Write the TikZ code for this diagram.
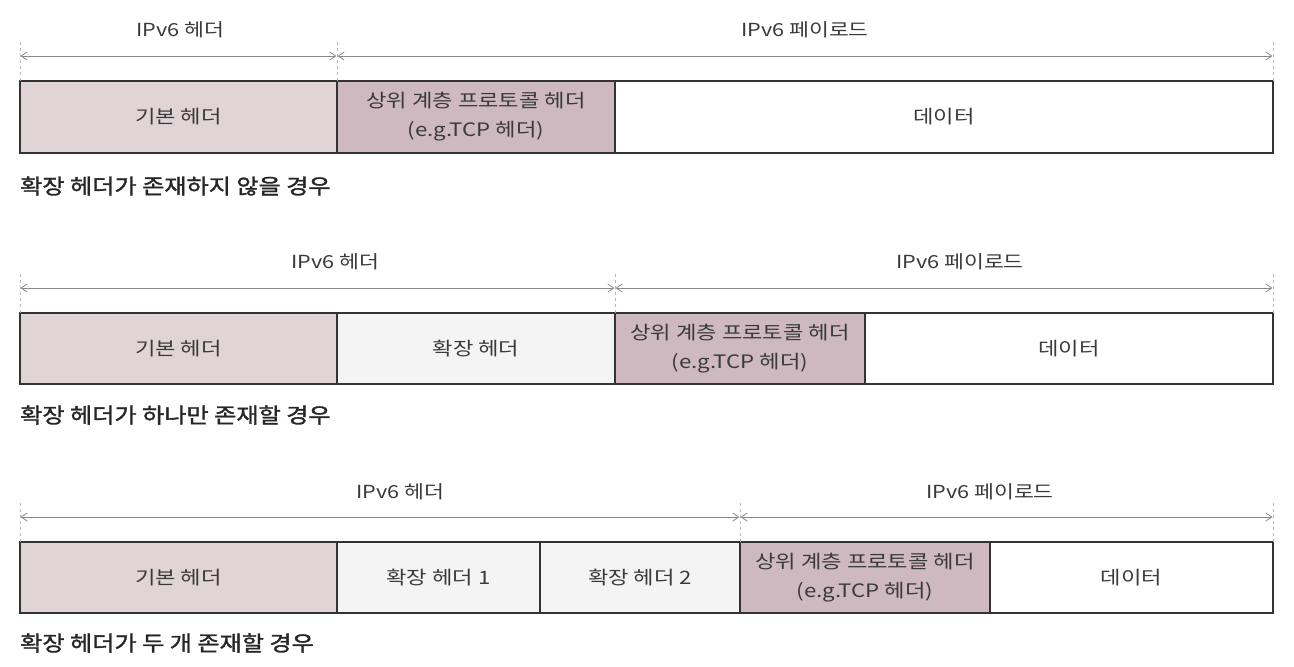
\documentclass[tikz,border=0pt]{standalone}
\usepackage{fontspec}
\newfontfamily\kr[FakeStretch=1.2]{Noto Sans CJK KR}
\newfontfamily\krb[FakeStretch=1.15,FakeBold=1.5]{Noto Sans CJK KR}
\usetikzlibrary{arrows.meta}
\definecolor{basecol}{HTML}{E0D4D7}
\definecolor{upcol}{HTML}{CDB9BF}
\definecolor{extcol}{HTML}{F4F4F4}
\definecolor{txt}{HTML}{3A3A3A}
\definecolor{edge}{HTML}{333333}
\definecolor{arr}{HTML}{8A8A8A}
\definecolor{tick}{HTML}{B8B8B8}
\tikzset{
  seg/.style={draw=edge, line width=1.4pt, inner sep=0pt, outer sep=0pt, anchor=north west,
    text=txt, font=\kr\fontsize{18.5}{29}\selectfont, align=center},
  toplbl/.style={text=txt, font=\kr\fontsize{18}{20}\selectfont, inner sep=0pt},
  captext/.style={text=black!85, font=\krb\fontsize{21}{24}\selectfont, inner sep=0pt, anchor=west},
  spanarrow/.style={draw=arr, line width=0.8pt, {Straight Barb[length=6pt,width=8pt]}-{Straight Barb[length=6pt,width=8pt]}, shorten <=0.5pt, shorten >=0.5pt},
  tickline/.style={draw=tick, line width=0.8pt, dash pattern=on 3pt off 3pt}
}
\begin{document}
\begin{tikzpicture}[x=1pt,y=-1pt]
\useasboundingbox (0,0) rectangle (1294,667);
\fill[white] (0,0) rectangle (1294,667);

% ---------- Row 1 ----------
\node[seg, fill=basecol, minimum width=317pt, minimum height=72pt] (a1) at (20,81) {기본 헤더};
\node[seg, fill=upcol, minimum width=278pt, minimum height=72pt] (a2) at (337,81) {상위 계층 프로토콜 헤더\\(e.g.TCP 헤더)};
\node[seg, fill=white, minimum width=658pt, minimum height=72pt] (a3) at (615,81) {데이터};
\coordinate (a1t) at (20,42);
\coordinate (a2t) at (337,42);
\coordinate (a3t) at (1273,42);
\draw[tickline] (a1t) -- (a1.north west);
\draw[tickline] (a2t) -- (a2.north west);
\draw[tickline] (a3t) -- (a3.north east);
\coordinate (a1l) at (20,56);
\coordinate (a2l) at (337,56);
\coordinate (a3l) at (1273,56);
\draw[spanarrow] (a1l) -- (a2l);
\draw[spanarrow] (a2l) -- (a3l);
\node[toplbl] (ah) at (180,30) {IPv6 헤더};
\node[toplbl] (ap) at (805,30) {IPv6 페이로드};
\node[captext] (acap) at (20,186) {확장 헤더가 존재하지 않을 경우};

% ---------- Row 2 ----------
\node[seg, fill=basecol, minimum width=317pt, minimum height=71pt] (b1) at (20,313) {기본 헤더};
\node[seg, fill=extcol, minimum width=278pt, minimum height=71pt] (b2) at (337,313) {확장 헤더};
\node[seg, fill=upcol, minimum width=250pt, minimum height=71pt] (b3) at (615,313) {상위 계층 프로토콜 헤더\\(e.g.TCP 헤더)};
\node[seg, fill=white, minimum width=408pt, minimum height=71pt] (b4) at (865,313) {데이터};
\coordinate (b1t) at (20,274);
\coordinate (b3t) at (615,274);
\coordinate (b4t) at (1273,274);
\draw[tickline] (b1t) -- (b1.north west);
\draw[tickline] (b3t) -- (b3.north west);
\draw[tickline] (b4t) -- (b4.north east);
\coordinate (b1l) at (20,288);
\coordinate (b3l) at (615,288);
\coordinate (b4l) at (1273,288);
\draw[spanarrow] (b1l) -- (b3l);
\draw[spanarrow] (b3l) -- (b4l);
\node[toplbl] (bh) at (335,262) {IPv6 헤더};
\node[toplbl] (bp) at (960,262) {IPv6 페이로드};
\node[captext] (bcap) at (20,415) {확장 헤더가 하나만 존재할 경우};

% ---------- Row 3 ----------
\node[seg, fill=basecol, minimum width=317pt, minimum height=71pt] (c1) at (20,542) {기본 헤더};
\node[seg, fill=extcol, minimum width=203pt, minimum height=71pt] (c2) at (337,542) {확장 헤더 1};
\node[seg, fill=extcol, minimum width=200pt, minimum height=71pt] (c3) at (540,542) {확장 헤더 2};
\node[seg, fill=upcol, minimum width=250pt, minimum height=71pt] (c4) at (740,542) {상위 계층 프로토콜 헤더\\(e.g.TCP 헤더)};
\node[seg, fill=white, minimum width=283pt, minimum height=71pt] (c5) at (990,542) {데이터};
\coordinate (c1t) at (20,503);
\coordinate (c4t) at (740,503);
\coordinate (c5t) at (1273,503);
\draw[tickline] (c1t) -- (c1.north west);
\draw[tickline] (c4t) -- (c4.north west);
\draw[tickline] (c5t) -- (c5.north east);
\coordinate (c1l) at (20,517);
\coordinate (c4l) at (740,517);
\coordinate (c5l) at (1273,517);
\draw[spanarrow] (c1l) -- (c4l);
\draw[spanarrow] (c4l) -- (c5l);
\node[toplbl] (ch) at (400,492) {IPv6 헤더};
\node[toplbl] (cp) at (990,492) {IPv6 페이로드};
\node[captext] (ccap) at (20,643) {확장 헤더가 두 개 존재할 경우};
\end{tikzpicture}
\end{document}
